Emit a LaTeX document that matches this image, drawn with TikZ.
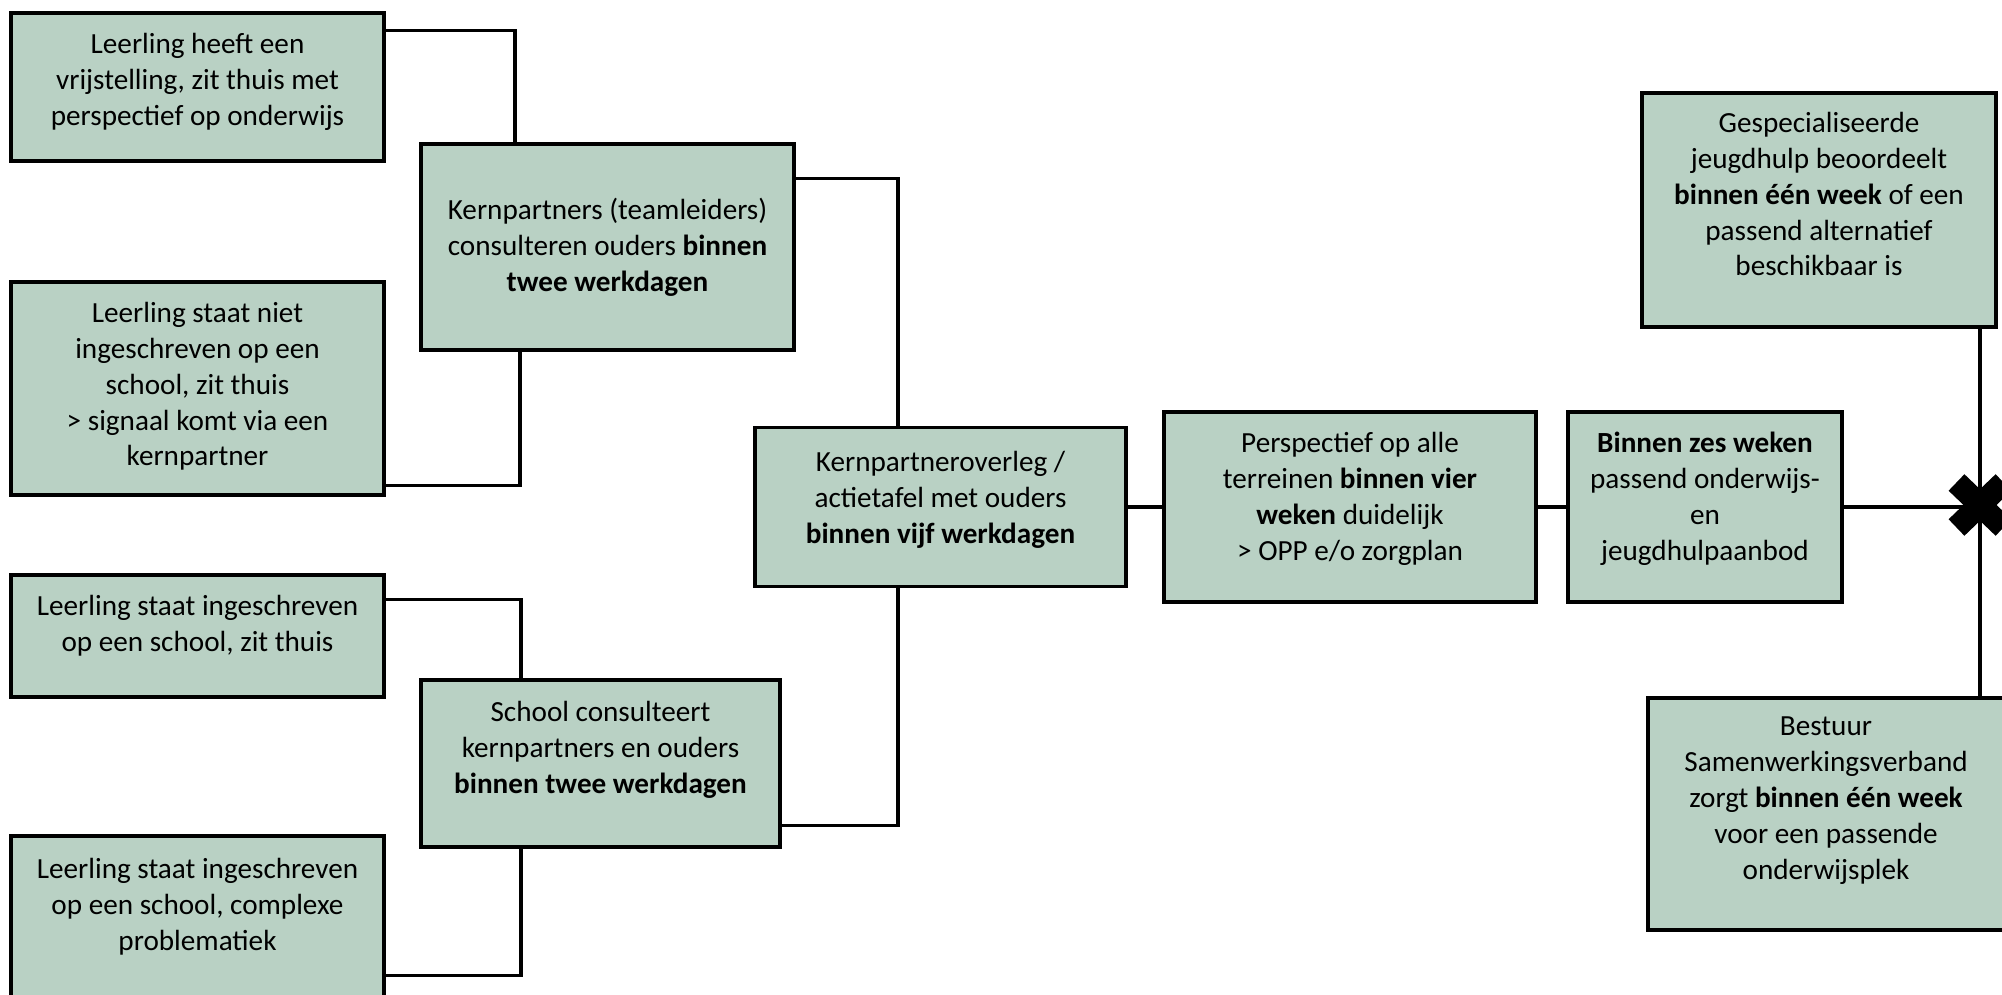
\documentclass[tikz,border=0pt]{standalone}
\usepackage{fontspec}
\setmainfont{Carlito}
\usepackage{tikz}
\usetikzlibrary{positioning,shapes.misc}
\definecolor{sage}{RGB}{185,209,196}

\begin{document}
\begin{tikzpicture}
		[x=0.01cm,y=-0.01cm,
		stap/.style={draw=black,fill=sage,line width=1pt,align=center,inner sep=0pt,
			font=\fontsize{8.3}{10.2}\selectfont},
		lijn/.style={line width=0.9pt},
		kruis/.style={cross out,draw=black,line width=6.5pt,minimum width=0.47cm,
			minimum height=0.45cm,inner sep=0pt,outer sep=0pt}]
		\useasboundingbox (0,0) rectangle (2002,995);
		\clip (0,0) rectangle (2002,995);
		
		% signalen
		\node[stap,minimum width=3.73cm,minimum height=1.48cm] (vrij) at (197.5,87)
		{Leerling heeft een\\vrijstelling, zit thuis met\\perspectief op onderwijs\\[-0.20cm]};
		\node[stap,minimum width=3.73cm,minimum height=2.13cm] (niet) at (197.5,388.5)
		{Leerling staat niet\\ingeschreven op een\\school, zit thuis\\> signaal komt via een\\kernpartner\\[-0.27cm]};
		\node[stap,minimum width=3.73cm,minimum height=1.22cm] (thuis) at (197.5,636)
		{Leerling staat ingeschreven\\op een school, zit thuis\\[-0.10cm]};
		\node[stap,minimum width=3.73cm,minimum height=1.70cm] (complex) at (197.5,921)
		{Leerling staat ingeschreven\\op een school, complexe\\problematiek\\[-0.02cm]};
		
		% consultatie
		\node[stap,minimum width=3.73cm,minimum height=2.06cm] (kern) at (607.5,247)
		{Kernpartners (teamleiders)\\consulteren ouders \textbf{binnen}\\\textbf{twee werkdagen}};
		\node[stap,minimum width=3.59cm,minimum height=1.67cm] (school) at (600.5,763.5)
		{School consulteert\\kernpartners en ouders\\\textbf{binnen twee werkdagen}\\[-0.03cm]};
		
		% overleg en vervolg
		\node[stap,minimum width=3.71cm,minimum height=1.59cm] (overleg) at (940.5,507)
		{Kernpartneroverleg /\\actietafel met ouders\\\textbf{binnen vijf werkdagen}\\[-0.16cm]};
		\node[stap,minimum width=3.72cm,minimum height=1.90cm] (persp) at (1350,507)
		{Perspectief op alle\\terreinen \textbf{binnen vier}\\\textbf{weken} duidelijk\\> OPP e/o zorgplan\\[-0.14cm]};
		\node[stap,minimum width=2.74cm,minimum height=1.90cm] (aanbod) at (1705,507)
		{\textbf{Binnen zes weken}\\passend onderwijs-\\en\\jeugdhulpaanbod\\[-0.14cm]};
		\node[stap,minimum width=3.54cm,minimum height=2.34cm] (jeugd) at (1819,210)
		{Gespecialiseerde\\jeugdhulp beoordeelt\\\textbf{binnen één week} of een\\passend alternatief\\beschikbaar is\\[-0.04cm]};
		\node[stap,minimum width=3.56cm,minimum height=2.32cm] (bestuur) at (1826,814)
		{Bestuur\\Samenwerkingsverband\\zorgt \textbf{binnen één week}\\voor een passende\\onderwijsplek\\[-0.04cm]};
		
		\coordinate (x) at (1980,505);
		
		% verbindingen
		\draw[lijn] ([yshift=-0.19cm]vrij.north east) -| ([xshift=-0.925cm]kern.north);
		\draw[lijn] ([yshift=0.11cm]niet.south east) -| ([xshift=-0.875cm]kern.south);
		\draw[lijn] ([yshift=-0.26cm]thuis.north east) -| ([xshift=-0.795cm]school.north);
		\draw[lijn] ([yshift=-1.41cm]complex.north east) -| ([xshift=-0.795cm]school.south);
		\draw[lijn] ([yshift=-0.36cm]kern.north east) -| ([xshift=-0.425cm]overleg.north);
		\draw[lijn] ([yshift=0.23cm]school.south east) -| ([xshift=-0.425cm]overleg.south);
		\draw[lijn] (overleg.east) -- (persp.west);
		\draw[lijn] (persp.east) -- (aanbod.west);
		\draw[lijn] (aanbod.east) -- (aanbod.east -| x);
		\draw[lijn] (jeugd.south -| x) -- (bestuur.north -| x);
		
		\node[kruis] (kruispunt) at (x) {};
		\end{tikzpicture}
\end{document}
